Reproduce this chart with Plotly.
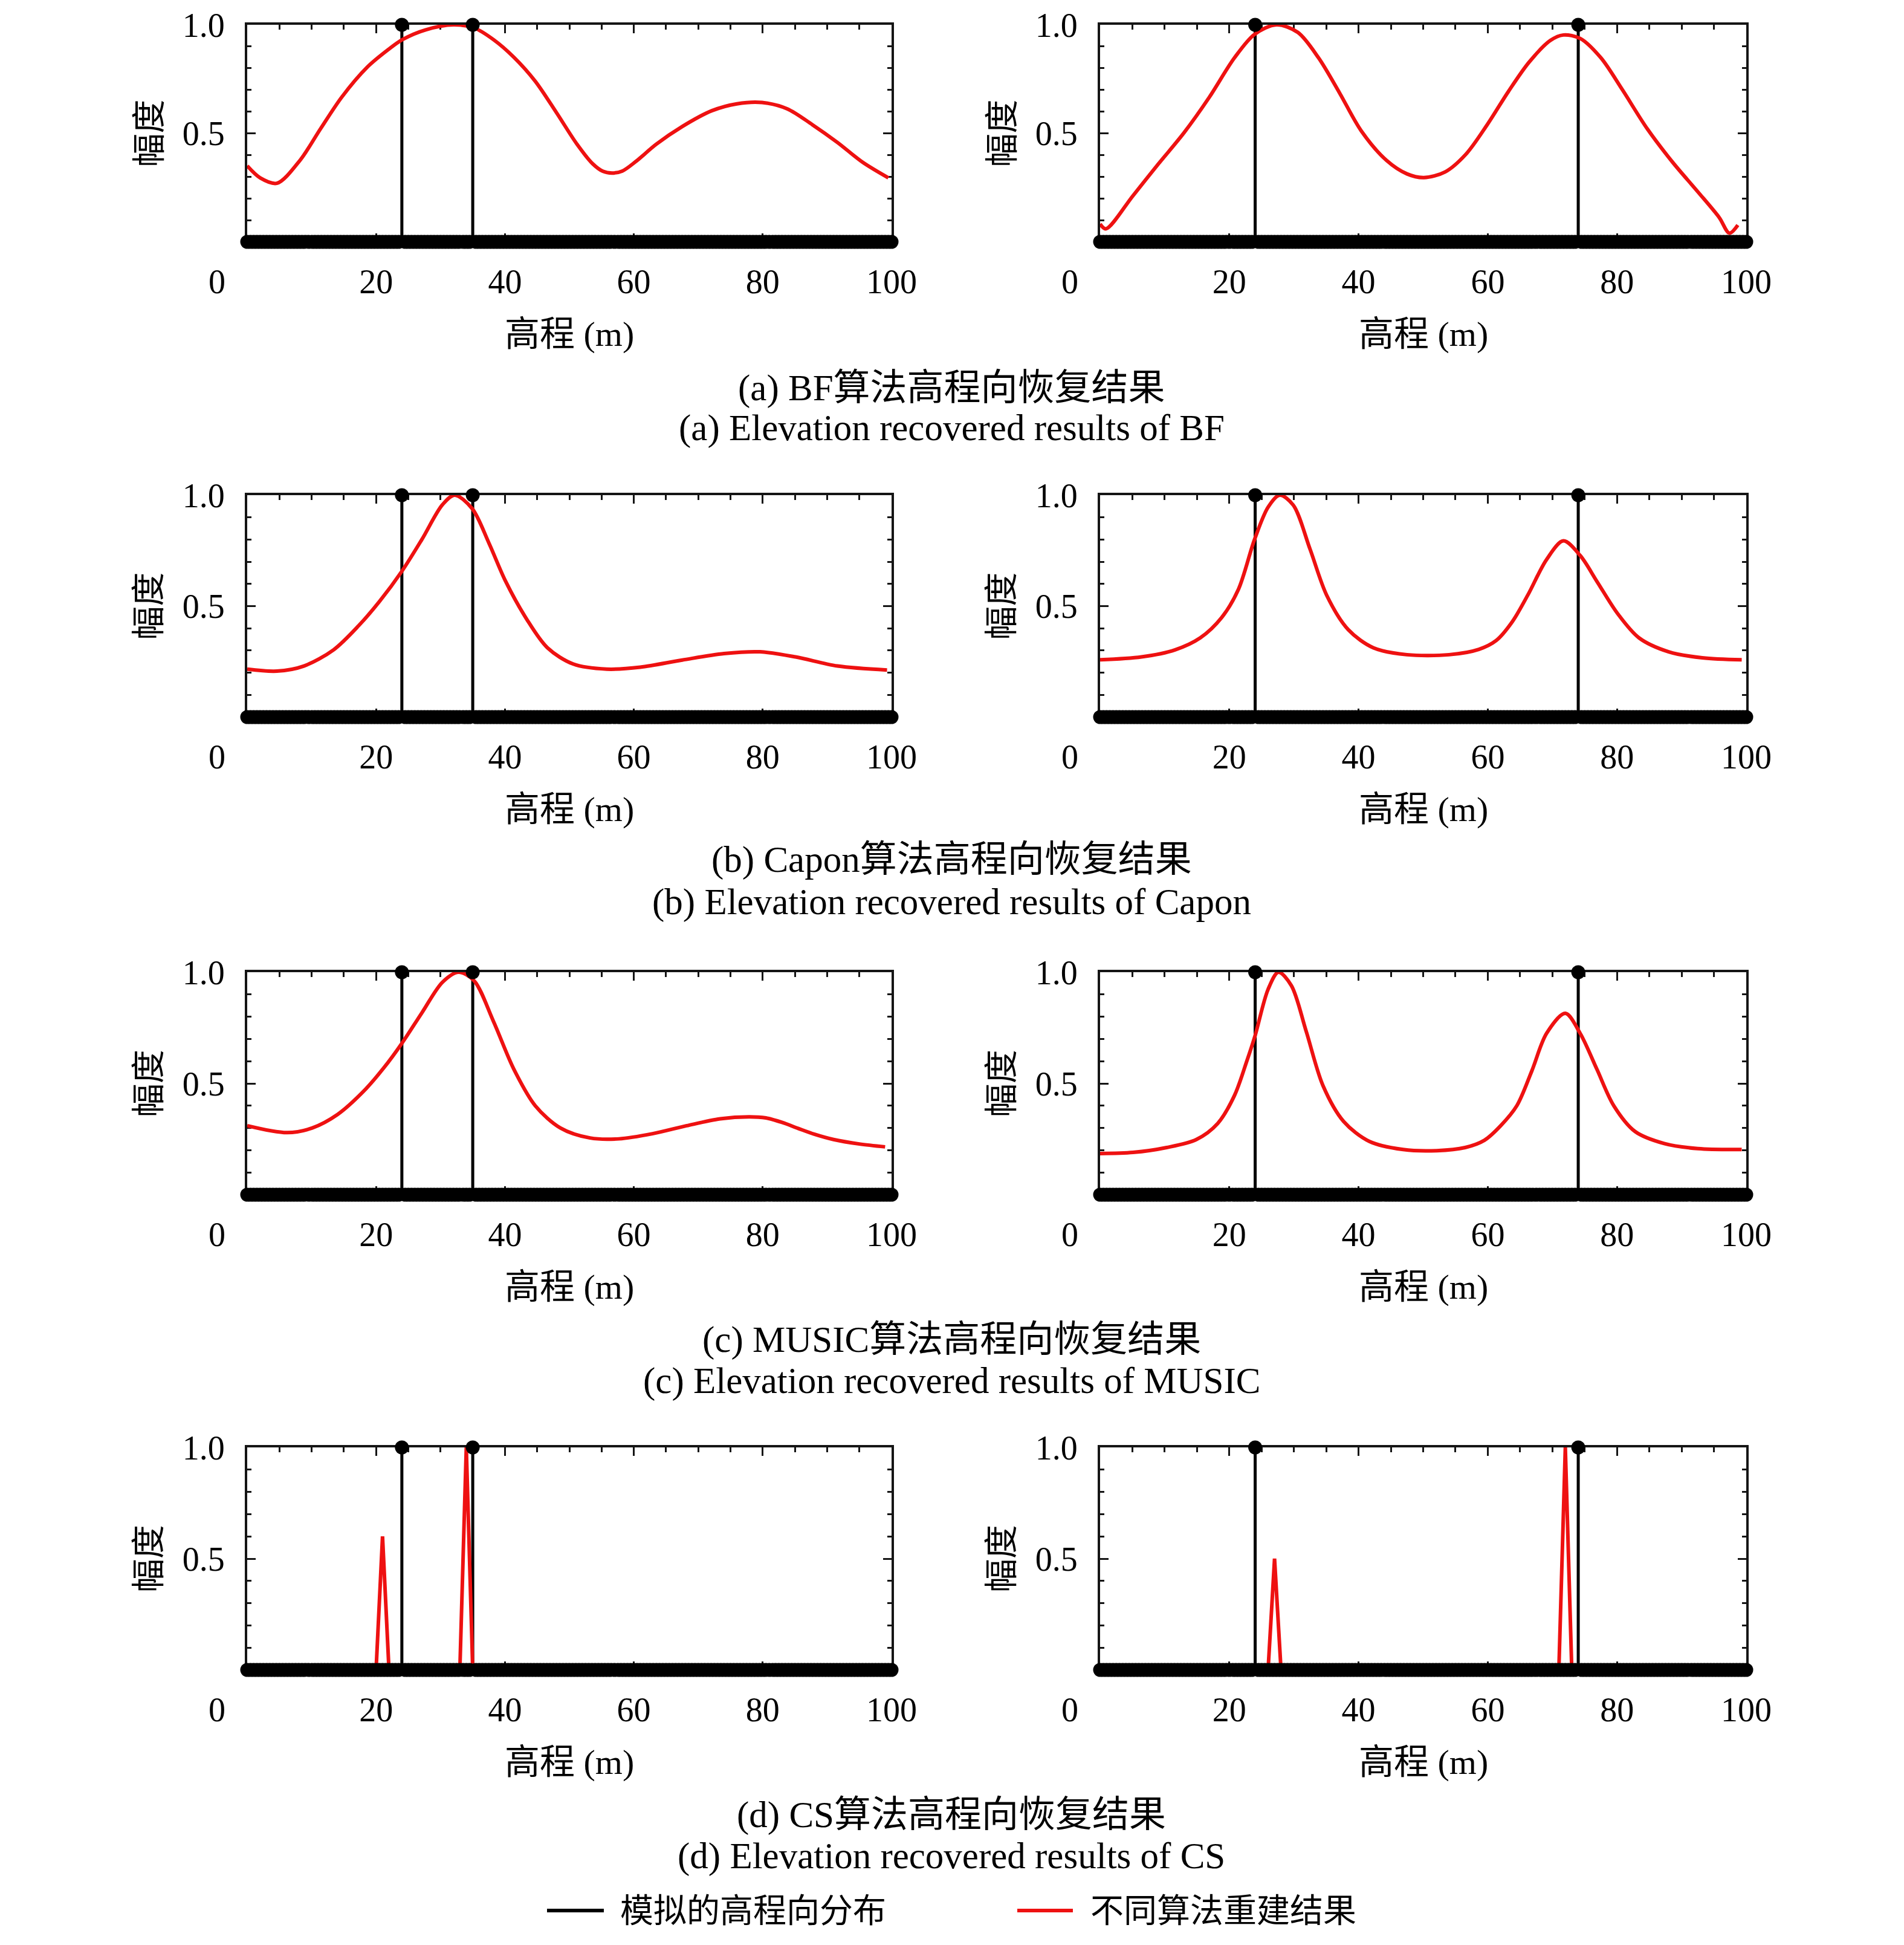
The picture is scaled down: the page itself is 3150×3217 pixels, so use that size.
import numpy as np
import plotly.graph_objects as go

W, H = 3150, 3217
FONT = "Liberation Serif, Noto Sans CJK SC, serif"
PAGE_OFF = 8  # browser body margin compensation (px)

# ---------------- data ----------------
# elevation sampling grid of the simulated distribution (m)
grid = np.arange(0, 100.0001, 0.5)
true_left = [24, 35]          # scatterer elevations, left column
true_right = [24, 74]         # scatterer elevations, right column
true_amp = 1.0

# (a) BF
bf_l_x = [0, 2, 4.6, 8.2, 11.4, 14.7, 18.6, 21.9, 24.1, 27.7, 32, 35.2, 38.2, 41.4, 44.7, 48, 51.2,
          53.6, 55.2, 56.6, 58.2, 60.3, 63.5, 67.5, 72.1, 76, 79.9, 83.8, 87.7, 91.6, 95.5, 99.5]
bf_l_y = [0.35, 0.295, 0.27, 0.376, 0.522, 0.668, 0.804, 0.886, 0.932, 0.977, 1.0, 0.986, 0.932, 0.85,
          0.74, 0.595, 0.449, 0.36, 0.325, 0.317, 0.326, 0.37, 0.45, 0.531, 0.604, 0.636, 0.642, 0.613,
          0.54, 0.458, 0.367, 0.295]
bf_r_x = [0, 0.9, 5.1, 9, 13, 16.9, 20.8, 23.9, 27.3, 30.6, 33.8, 37.1, 40.4, 44.3, 47.5, 50.1, 53.4,
          56.6, 59.9, 63.2, 66.4, 69.7, 71.7, 74.3, 77.5, 80.8, 84.7, 88.6, 92.5, 95.8, 97.4, 98.7]
bf_r_y = [0.082, 0.06, 0.213, 0.358, 0.503, 0.666, 0.848, 0.956, 1.0, 0.965, 0.848, 0.684, 0.512, 0.376,
          0.313, 0.296, 0.322, 0.403, 0.539, 0.693, 0.828, 0.928, 0.953, 0.937, 0.848, 0.702, 0.52,
          0.367, 0.231, 0.113, 0.04, 0.077]
# (b) Capon
capon_l_x = [0, 4.6, 8.8, 13.4, 17.3, 20.5, 24, 27.1, 30.3, 32.2, 34.9, 37.5, 40.1, 43.4, 46.6, 50.6,
             55.8, 61, 67.5, 74, 79.6, 85.1, 91.6, 99.3]
capon_l_y = [0.216, 0.207, 0.23, 0.303, 0.412, 0.52, 0.657, 0.8, 0.957, 1.0, 0.94, 0.785, 0.612, 0.44,
             0.312, 0.239, 0.216, 0.225, 0.257, 0.286, 0.294, 0.271, 0.23, 0.212]
capon_r_x = [0, 6.4, 11.6, 15.5, 18.8, 21.4, 23.9, 26, 27.8, 29.9, 32.5, 35.1, 38.4, 42.3, 47.5, 54,
             58.6, 61.3, 63.8, 66.2, 69.1, 71.7, 74.3, 76.9, 80.1, 83.4, 88, 93.2, 99.3]
capon_r_y = [0.258, 0.271, 0.303, 0.357, 0.448, 0.575, 0.8, 0.946, 1.0, 0.955, 0.756, 0.547, 0.394,
             0.312, 0.281, 0.281, 0.305, 0.345, 0.43, 0.55, 0.71, 0.794, 0.728, 0.611, 0.466, 0.357, 0.294,
             0.267, 0.258]
# (c) MUSIC
music_l_x = [0, 6.2, 10.1, 14, 17.9, 21.2, 24, 27.1, 30.3, 32.8, 35.2, 38.2, 41.4, 44.7, 48.6, 53.2,
             57.7, 62.9, 68.2, 73.4, 77.9, 80.5, 83, 85.5, 88, 91, 95, 99.0]
music_l_y = [0.31, 0.279, 0.3, 0.36, 0.46, 0.57, 0.68, 0.817, 0.955, 1.0, 0.962, 0.78, 0.563, 0.4, 0.3,
             0.255, 0.251, 0.274, 0.31, 0.341, 0.35, 0.345, 0.325, 0.298, 0.272, 0.248, 0.228, 0.215]
music_r_x = [0, 5.1, 10.3, 14.9, 18.2, 20.8, 22.7, 24, 26, 27.6, 29.6, 31.9, 34.5, 37.7, 41.7, 46.9,
             52.1, 56.5, 59.5, 62, 64.5, 66.8, 69.1, 72, 74.3, 76.9, 79.5, 82.8, 87.3, 92.5, 99.3]
music_r_y = [0.185, 0.19, 0.212, 0.248, 0.32, 0.446, 0.6, 0.716, 0.923, 1.0, 0.94, 0.734, 0.49, 0.329,
             0.239, 0.203, 0.198, 0.212, 0.245, 0.31, 0.4, 0.555, 0.725, 0.815, 0.725, 0.563, 0.4, 0.284,
             0.23, 0.207, 0.203]
# (d) CS
cs_l_x = [0, 20, 21, 22, 33, 34, 35, 100]
cs_l_y = [0, 0, 0.6, 0, 0, 1.0, 0, 0]
cs_r_x = [0, 26, 27, 28, 71, 72, 73, 100]
cs_r_y = [0, 0, 0.5, 0, 0, 1.0, 0, 0]

x_ticks = [20, 40, 60, 80, 100]
y_ticks = [0.5, 1.0]
y_ticktext = ["0.5", "1.0"]

captions = [
    ("(a) BF算法高程向恢复结果", "(a) Elevation recovered results of BF"),
    ("(b) Capon算法高程向恢复结果", "(b) Elevation recovered results of Capon"),
    ("(c) MUSIC算法高程向恢复结果", "(c) Elevation recovered results of MUSIC"),
    ("(d) CS算法高程向恢复结果", "(d) Elevation recovered results of CS"),
]
legend_labels = ["模拟的高程向分布", "不同算法重建结果"]

panels = [
    (0, 0, bf_l_x, bf_l_y, true_left, "spline"), (0, 1, bf_r_x, bf_r_y, true_right, "spline"),
    (1, 0, capon_l_x, capon_l_y, true_left, "spline"), (1, 1, capon_r_x, capon_r_y, true_right, "spline"),
    (2, 0, music_l_x, music_l_y, true_left, "spline"), (2, 1, music_r_x, music_r_y, true_right, "spline"),
    (3, 0, cs_l_x, cs_l_y, true_left, "linear"), (3, 1, cs_r_x, cs_r_y, true_right, "linear"),
]

# ---------------- layout geometry (pixels on the page) ----------------
col_px = [(409, 1475), (1820, 2889)]
row_px = [(41, 400), (819, 1186), (1608, 1976), (2394, 2762)]
caption_px = [(642, 708), (1422, 1492), (2216, 2284), (3002, 3070)]


def px_x(v):
    return (v - PAGE_OFF) / W


def px_y(v):
    return 1 - (v - PAGE_OFF) / H


fig = go.Figure()
layout = {}
annotations = []

for (r, c, cx, cy, truth, shape) in panels:
    k = r * 2 + c + 1
    xa = "x" if k == 1 else f"x{k}"
    ya = "y" if k == 1 else f"y{k}"
    # stem lines
    sx, sy = [], []
    for t in truth:
        sx += [t, t, None]
        sy += [0, true_amp, None]
    fig.add_trace(go.Scatter(x=sx, y=sy, mode="lines", line=dict(color="black", width=5),
                             xaxis=xa, yaxis=ya, showlegend=False, cliponaxis=False, hoverinfo="skip"))
    # reconstructed curve
    line = dict(color="#ee1111", width=6, shape=shape)
    if shape == "spline":
        line["smoothing"] = 0.9
    fig.add_trace(go.Scatter(x=cx, y=cy, mode="lines", line=line, xaxis=xa, yaxis=ya,
                             showlegend=False, cliponaxis=False))
    # stem markers
    my = [true_amp if any(abs(g - t) < 1e-9 for t in truth) else 0.0 for g in grid]
    fig.add_trace(go.Scatter(x=grid, y=my, mode="markers",
                             marker=dict(color="black", size=23, line=dict(width=0)),
                             xaxis=xa, yaxis=ya, showlegend=False, cliponaxis=False, hoverinfo="skip"))

    x0, x1 = col_px[c]
    top, bot = row_px[r]
    axis_line = dict(showline=True, linewidth=4, linecolor="#151515", mirror="ticks", showgrid=False,
                     zeroline=False, ticks="inside", tickcolor="#151515", tickwidth=3, ticklen=14,
                     layer="below traces", automargin=False, ticklabeloverflow="allow")
    layout["xaxis" if k == 1 else f"xaxis{k}"] = dict(
        domain=[px_x(x0), px_x(x1)], range=[0, 100], anchor=ya, tickvals=x_ticks,
        ticktext=[str(v) for v in x_ticks],
        tickfont=dict(family=FONT, size=56, color="black"), ticklabelstandoff=14,
        minor=dict(dtick=5, tick0=0, ticks="inside", ticklen=8, tickwidth=3, tickcolor="#151515",
                   showgrid=False),
        **axis_line)
    layout["yaxis" if k == 1 else f"yaxis{k}"] = dict(
        domain=[px_y(bot), px_y(top)], range=[0, 1], anchor=xa, tickvals=y_ticks, ticktext=y_ticktext,
        tickfont=dict(family=FONT, size=56, color="black"), ticklabelstandoff=22,
        minor=dict(dtick=0.1, tick0=0, ticks="inside", ticklen=7, tickwidth=3, tickcolor="#151515",
                   showgrid=False),
        **axis_line)

    # "0" label at the lower-left corner
    annotations.append(dict(text="0", x=px_x(x0 - 50), y=px_y(bot + 66), xref="paper", yref="paper",
                            showarrow=False, xanchor="center", yanchor="middle",
                            font=dict(family=FONT, size=56, color="black")))
    # x title
    annotations.append(dict(text="高程 (m)", x=px_x((x0 + x1) / 2), y=px_y(bot + 152), xref="paper",
                            yref="paper", showarrow=False, xanchor="center", yanchor="middle",
                            font=dict(family=FONT, size=58, color="black")))
    # y title
    annotations.append(dict(text="幅度", x=px_x(x0 - 163), y=px_y((top + bot) / 2), xref="paper",
                            yref="paper", showarrow=False, xanchor="center", yanchor="middle",
                            textangle=-90, font=dict(family=FONT, size=56, color="black")))

for r, (zh, en) in enumerate(captions):
    y1, y2 = caption_px[r]
    for txt, yy in ((zh, y1), (en, y2)):
        annotations.append(dict(text=txt, x=px_x(1574), y=px_y(yy), xref="paper", yref="paper",
                                showarrow=False, xanchor="center", yanchor="middle",
                                font=dict(family=FONT, size=61, color="black")))

# legend
shapes = [
    dict(type="line", xref="paper", yref="paper", x0=px_x(905), x1=px_x(999), y0=px_y(3160),
         y1=px_y(3160), line=dict(color="black", width=6)),
    dict(type="line", xref="paper", yref="paper", x0=px_x(1683), x1=px_x(1775), y0=px_y(3160),
         y1=px_y(3160), line=dict(color="#ee1111", width=6)),
]
for txt, xl in ((legend_labels[0], 1024), (legend_labels[1], 1802)):
    annotations.append(dict(text=txt, x=px_x(xl), y=px_y(3160), xref="paper", yref="paper",
                            showarrow=False, xanchor="left", yanchor="middle",
                            font=dict(family=FONT, size=55, color="black")))

fig.update_layout(width=W, height=H, margin=dict(l=0, r=0, t=0, b=0, autoexpand=False),
                  paper_bgcolor="white", plot_bgcolor="white", showlegend=False,
                  annotations=annotations, shapes=shapes, **layout)

fig.write_html("out.html")
